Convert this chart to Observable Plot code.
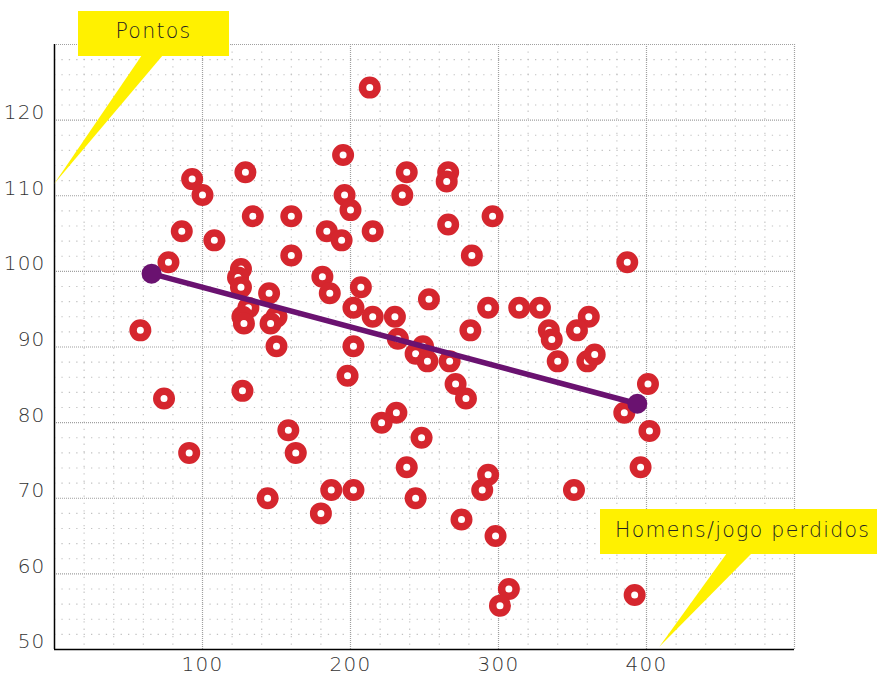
<!DOCTYPE html>
<html>
<head>
<meta charset="utf-8">
<script src="https://cdn.jsdelivr.net/npm/d3@7"></script>
<script src="https://cdn.jsdelivr.net/npm/@observablehq/plot@0.6"></script>
<style>
  body { margin: 0; background: #fff; }
  #chart { width: 877px; height: 676px; overflow: hidden; }
  #chart svg text { letter-spacing: 1.2px; }
</style>
</head>
<body>
<div id="chart"></div>
<script>
// Homens/jogo perdidos (x) and Pontos (y)
const homensPerdidos = [213,195,129,93,100,196,238,235,266,265,200,134,160,296,86,184,215,108,194,266,160,282,77,387,126,124,181,126,186,207,145,131,202,253,293,314,328,361,215,230,127,150,128,146,58,281,334,353,336,232,150,202,249,244,252,267,340,360,365,198,271,401,74,127,278,231,385,221,402,158,248,163,91,238,396,293,144,187,202,244,289,351,180,275,298,307,301,392];
const pontos = [124.3,115.4,113.1,112.2,110.1,110.1,113.1,110.1,113.1,111.9,108.1,107.3,107.3,107.3,105.3,105.3,105.3,104.1,104.1,106.2,102.1,102.1,101.2,101.2,100.3,99.2,99.3,97.9,97.1,97.9,97.1,95.2,95.2,96.3,95.2,95.2,95.2,94.0,94.0,94.0,94.0,94.0,93.1,93.1,92.2,92.2,92.2,92.2,91.0,91.1,90.1,90.1,90.1,89.1,88.1,88.1,88.1,88.1,89.0,86.2,85.1,85.1,83.2,84.2,83.2,81.3,81.3,80.0,78.9,79.0,78.0,76.0,76.0,74.1,74.1,73.1,70.0,71.1,71.1,70.0,71.1,71.1,68.0,67.2,65.0,58.0,55.8,57.2];

// trend line end points
const trendX = [65.6, 393.8];
const trendY = [99.7, 82.5];

// ticks
const xTicks = [100, 200, 300, 400];
const yTicks = [50, 60, 70, 80, 90, 100, 110, 120];
const xMajor = [100, 200, 300, 400, 500];
const yMajor = [60, 70, 80, 90, 100, 110, 120, 130];
const xMinor = d3.range(20, 500, 20).filter(v => v % 100 !== 0);
const yMinor = d3.range(52, 130, 2).filter(v => v % 10 !== 0);

// callout labels
const yLabel = "Pontos";
const xLabel = "Homens/jogo perdidos";

const points = homensPerdidos.map((x, i) => ({x, y: pontos[i]}));
const trend = trendX.map((x, i) => ({x, y: trendY[i]}));

const FONT = "'DejaVu Sans', Lato, sans-serif";

const plot = Plot.plot({
  width: 877,
  height: 676,
  marginLeft: 54,
  marginTop: 44,
  marginRight: 83,
  marginBottom: 27,
  style: { fontFamily: FONT, fontSize: "20px", fontWeight: 200, background: "#fff", color: "#333", overflow: "visible" },
  x: { domain: [0, 500] },
  y: { domain: [50, 130] },
  marks: [
    Plot.gridX(xMinor, { stroke: "#c2c2c2", strokeOpacity: 1, strokeWidth: 1.1, strokeDasharray: "1.3,6.1" }),
    Plot.gridY(yMinor, { stroke: "#c2c2c2", strokeOpacity: 1, strokeWidth: 1.1, strokeDasharray: "1.3,6.1" }),
    Plot.gridX(xMajor, { stroke: "#a0a0a0", strokeOpacity: 1, strokeWidth: 1.2, strokeDasharray: "1,1" }),
    Plot.gridY(yMajor, { stroke: "#a0a0a0", strokeOpacity: 1, strokeWidth: 1.2, strokeDasharray: "1,1" }),
    Plot.ruleX([0], { stroke: "#000", strokeWidth: 1.5 }),
    Plot.ruleY([50], { stroke: "#000", strokeWidth: 1.5 }),
    Plot.axisX(xTicks, { tickSize: 0, tickPadding: 7, label: null, fill: "#333" }),
    Plot.axisY(yTicks, { tickSize: 0, tickPadding: 9, label: null, dy: -7.5, fill: "#333" }),
    Plot.dot(points, { x: "x", y: "y", r: 7.25, fill: "#fff", stroke: "#d5262e", strokeWidth: 7.5 }),
    Plot.line(trend, { x: "x", y: "y", stroke: "#6a1270", strokeWidth: 5.5 }),
    Plot.dot(trend, { x: "x", y: "y", r: 10, fill: "#6a1270" })
  ]
});

document.getElementById("chart").appendChild(plot);

// Callouts (speech-bubble labels) positioned from the scales
const sx = plot.scale("x"), sy = plot.scale("y");
const svg = d3.select(plot);
const callouts = [
  { text: yLabel, tip: [sx.apply(0), sy.apply(111.5)], box: [78, 11, 151, 45], base: [142, 163], anchor: "middle", tx: 153.5, ty: 38 },
  { text: xLabel, tip: [sx.apply(409), sy.apply(50.3)], box: [600, 509, 290, 45], base: [727, 752], anchor: "start", tx: 615, ty: 536.5 }
];
for (const c of callouts) {
  const g = svg.append("g");
  const [bx, by, bw, bh] = c.box;
  g.append("polygon")
    .attr("points", `${c.base[0]},${by + bh - 1} ${c.base[1]},${by + bh - 1} ${c.tip[0]},${c.tip[1]}`)
    .attr("fill", "#fff100");
  g.append("rect").attr("x", bx).attr("y", by).attr("width", bw).attr("height", bh).attr("fill", "#fff100");
  g.append("text").attr("x", c.tx).attr("y", c.ty).attr("text-anchor", c.anchor)
    .attr("font-family", FONT).attr("font-size", 20.5).attr("font-weight", 200)
    .style("letter-spacing", "1.3px").attr("fill", "#222").text(c.text);
}
</script>
</body>
</html>
